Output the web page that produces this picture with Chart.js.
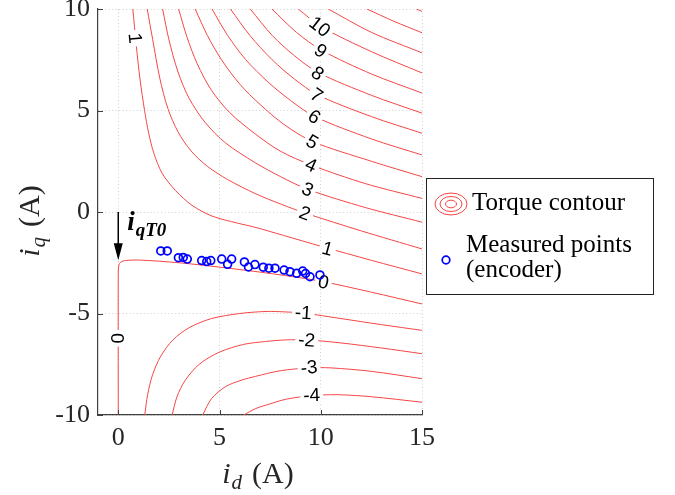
<!DOCTYPE html>
<html>
<head>
<meta charset="utf-8">
<title>Torque contour</title>
<script src="https://cdn.jsdelivr.net/npm/chart.js@4.4.1/dist/chart.umd.min.js"></script>
<style>
    body { margin: 0; background: #fff; }
    #wrap { width: 675px; height: 495px; }
</style>
</head>
<body>
<div id="wrap"><canvas id="torqueChart" width="675" height="495"></canvas></div>

<script>
    // contour paths, pairs of [id, iq] in A
    const contourM4 = [[6.19,-10],[6.8,-9.68],[7.5,-9.45],[8.3,-9.22],[9.5,-9.05],[10.8,-9.0],[12.5,-9.1],[15,-9.37]];
    const contourM3 = [[4.17,-10],[4.6,-9.2],[5.3,-8.6],[6.1,-8.28],[6.77,-8.1],[8.0,-7.82],[9.42,-7.68],[10.5,-7.68],[12.5,-7.85],[15,-8.21]];
    const contourM2 = [[2.66,-10],[2.9,-9.1],[3.3,-8.3],[4.0,-7.5],[5.0,-6.9],[6.2,-6.52],[7.27,-6.38],[8.3,-6.3],[9.31,-6.3],[11,-6.45],[13,-6.7],[15,-6.98]];
    const contourM1 = [[1.31,-10],[1.45,-9],[1.7,-8],[2.1,-7.1],[2.7,-6.3],[3.5,-5.7],[4.6,-5.25],[6.0,-5.0],[7.3,-4.9],[8.2,-4.92],[9.14,-4.98],[11,-5.25],[13,-5.55],[15,-5.83]];
    const contour0 = [[0,-10],[0,-3.0],[0.03,-2.62],[0.12,-2.47],[0.35,-2.39],[1.1,-2.37],[3.0,-2.5],[5.04,-2.72],[7.67,-3.05],[9.96,-3.4],[12.5,-3.95],[15,-4.53]];
    const contour1 = [[0.72,10],[0.88,8.3],[1.08,6.5],[1.3,5.0],[1.5,3.9],[1.76,2.89],[2.17,1.9],[2.82,1.07],[3.64,0.33],[4.63,-0.2],[5.9,-0.55],[6.75,-0.75],[8.15,-1.15],[10.05,-1.7],[12.5,-2.38],[15,-3.05]];
    const contour2 = [[1.43,10],[1.7,8.5],[2.05,6.6],[2.45,5.1],[2.95,3.95],[3.6,3.0],[4.4,2.25],[5.4,1.6],[6.76,0.91],[8.0,0.4],[9.25,-0.06],[12,-0.93],[15,-1.82]];
    const contour3 = [[2.19,10],[2.5,8.5],[2.95,6.9],[3.5,5.6],[4.3,4.4],[5.3,3.4],[6.76,2.43],[8.0,1.75],[9.37,1.11],[12.2,0.22],[15,-0.5]];
    const contour4 = [[2.98,10],[3.4,8.6],[3.9,7.3],[4.6,6.0],[5.5,4.9],[6.76,3.85],[8.0,3.0],[9.54,2.31],[12.2,1.4],[15,0.67]];
    const contour5 = [[3.8,10],[4.4,8.7],[5.1,7.5],[6.0,6.3],[7.0,5.3],[8.2,4.3],[9.6,3.47],[12.5,2.5],[15,1.74]];
    const contour6 = [[4.63,10],[5.4,8.7],[6.3,7.5],[7.4,6.4],[8.5,5.5],[9.7,4.7],[12.5,3.6],[15,2.81]];
    const contour7 = [[5.54,10],[6.5,8.7],[7.6,7.5],[8.7,6.55],[9.82,5.78],[12.5,4.7],[15,3.88]];
    const contour8 = [[6.52,10],[7.6,8.7],[8.7,7.7],[9.87,6.87],[12.5,5.75],[15,4.87]];
    const contour9 = [[7.59,10],[8.8,8.85],[10.04,7.97],[12.5,6.8],[15,5.86]];
    const contour10 = [[8.89,10],[10,9.14],[12.5,7.9],[15,6.85]];
    const contour11 = [[10.37,10],[12.5,8.85],[15,7.84]];
    const contour12 = [[12.28,10],[13.6,9.4],[15,8.83]];
    const contour13 = [[14.72,10],[15,9.88]];

    const contourLevels = [-4, -3, -2, -1, 0, 1, 2, 3, 4, 5, 6, 7, 8, 9, 10, 11, 12, 13];
    const contourPaths = [contourM4, contourM3, contourM2, contourM1, contour0, contour1, contour2, contour3,
        contour4, contour5, contour6, contour7, contour8, contour9, contour10, contour11, contour12, contour13];

    // inline contour labels
    const labelLevels = [10, 9, 8, 7, 6, 5, 4, 3, 2, 1, 1, 0, 0, -1, -2, -3, -4];
    const labelId = [9.96, 10.0, 9.85, 9.8, 9.68, 9.58, 9.52, 9.36, 9.22, 10.34, 0.84, 10.13, 0, 9.14, 9.31, 9.42, 9.55];
    const labelIq = [9.13, 7.95, 6.83, 5.76, 4.69, 3.46, 2.32, 1.12, -0.06, -1.8, 8.56, -3.45, -6.22, -4.96, -6.31, -7.65, -9.01];

    // measured points (encoder)
    const measuredId = [2.10, 2.42, 2.97, 3.21, 3.41, 4.12, 4.37, 4.57, 5.11, 5.40, 5.60, 6.23, 6.43, 6.75, 7.16, 7.44, 7.74, 8.19, 8.48, 8.81, 9.11, 9.25, 9.47, 9.96];
    const measuredIq = [-1.92, -1.92, -2.25, -2.24, -2.32, -2.39, -2.44, -2.39, -2.32, -2.58, -2.32, -2.46, -2.71, -2.59, -2.72, -2.77, -2.77, -2.86, -2.94, -3.02, -2.91, -3.03, -3.19, -3.10];

    const xTicks = [0, 5, 10, 15];
    const yTicks = [-10, -5, 0, 5, 10];
    const iqT0 = -2.38;

    const RED = 'rgb(245,70,70)';
    const BLUE = 'rgb(0,0,255)';
    const AXIS = '#404040';
    const SERIF = '"Liberation Serif", "Times New Roman", serif';

    const datasets = contourPaths.map((path, i) => ({
        label: 'T = ' + contourLevels[i],
        data: path.map(p => ({x: p[0], y: p[1]})),
        showLine: true,
        borderColor: RED,
        borderWidth: 1,
        pointRadius: 0,
        tension: 0.3,
        order: 1
    }));
    const measuredIndex = datasets.length;
    datasets.push({
        label: 'Measured points (encoder)',
        data: measuredId.map((v, i) => ({x: v, y: measuredIq[i]})),
        pointStyle: 'circle',
        pointRadius: 3.9,
        pointBorderWidth: 1.7,
        borderColor: BLUE,
        backgroundColor: 'rgba(0,0,0,0)',
        showLine: false,
        order: 0
    });

    function lineAngle(path, px, py, xs, ys) {
        let best = Infinity, ang = 0;
        for (let k = 0; k < path.length - 1; k++) {
            const x1 = xs.getPixelForValue(path[k][0]), y1 = ys.getPixelForValue(path[k][1]);
            const x2 = xs.getPixelForValue(path[k + 1][0]), y2 = ys.getPixelForValue(path[k + 1][1]);
            const dx = x2 - x1, dy = y2 - y1;
            const len2 = dx * dx + dy * dy || 1;
            let t = ((px - x1) * dx + (py - y1) * dy) / len2;
            t = Math.max(0, Math.min(1, t));
            const d = Math.hypot(x1 + t * dx - px, y1 + t * dy - py);
            if (d < best) { best = d; ang = Math.atan2(dy, dx); }
        }
        if (ang > Math.PI / 2) ang -= Math.PI;
        if (ang < -Math.PI / 2) ang += Math.PI;
        return ang;
    }

    // text made of pieces with different fonts / baseline shifts
    function drawParts(ctx, parts, cx, baseline) {
        let total = 0;
        parts.forEach(p => { ctx.font = p.font; total += ctx.measureText(p.text).width + (p.gap || 0); });
        let x = cx - total / 2;
        parts.forEach(p => {
            ctx.font = p.font;
            ctx.fillText(p.text, x, baseline + (p.dy || 0));
            x += ctx.measureText(p.text).width + (p.gap || 0);
        });
    }

    function titleParts(sub) {
        return [
            {text: 'i', font: 'italic 30px ' + SERIF, gap: 1},
            {text: sub, font: 'italic 21px ' + SERIF, dy: 6, gap: 10},
            {text: '(A)', font: '30px ' + SERIF}
        ];
    }

    const decorations = {
        id: 'decorations',
        beforeDatasetDraw(chart, args) {
            if (args.index !== measuredIndex) return;
            // contour labels sit in a gap of the line
            const ctx = chart.ctx, xs = chart.scales.x, ys = chart.scales.y;
            ctx.save();
            ctx.font = '19px "Liberation Sans", Arial, sans-serif';
            ctx.textAlign = 'center';
            ctx.textBaseline = 'middle';
            labelLevels.forEach((lv, i) => {
                const px = xs.getPixelForValue(labelId[i]);
                const py = ys.getPixelForValue(labelIq[i]);
                const path = contourPaths[contourLevels.indexOf(lv)];
                const a = lineAngle(path, px, py, xs, ys);
                const txt = String(lv);
                const w = ctx.measureText(txt).width;
                ctx.save();
                ctx.translate(px, py);
                ctx.rotate(a);
                ctx.fillStyle = '#fff';
                ctx.fillRect(-w / 2 - 3, -7, w + 6, 14);
                ctx.fillStyle = '#000';
                ctx.fillText(txt, 0, 1);
                ctx.restore();
            });
            ctx.restore();
        },
        afterDraw(chart) {
            const ctx = chart.ctx, xs = chart.scales.x, ys = chart.scales.y;
            const area = chart.chartArea;
            ctx.save();

            // inward tick marks
            ctx.strokeStyle = AXIS;
            ctx.lineWidth = 1;
            ctx.beginPath();
            xTicks.forEach(v => {
                const x = Math.round(xs.getPixelForValue(v)) + 0.5;
                ctx.moveTo(x, area.bottom);
                ctx.lineTo(x, area.bottom - 5);
            });
            yTicks.forEach(v => {
                const y = Math.round(ys.getPixelForValue(v)) + 0.5;
                ctx.moveTo(area.left, y);
                ctx.lineTo(area.left + 5, y);
            });
            ctx.stroke();

            // i_qT0 arrow
            const ax = xs.getPixelForValue(0);
            const ay0 = ys.getPixelForValue(0);
            const ay1 = ys.getPixelForValue(iqT0);
            ctx.strokeStyle = '#000';
            ctx.fillStyle = '#000';
            ctx.lineWidth = 1.5;
            ctx.beginPath();
            ctx.moveTo(ax, ay0);
            ctx.lineTo(ax, ay1 - 14);
            ctx.stroke();
            ctx.beginPath();
            ctx.moveTo(ax, ay1);
            ctx.lineTo(ax - 4.5, ay1 - 17);
            ctx.lineTo(ax + 4.5, ay1 - 17);
            ctx.closePath();
            ctx.fill();
            ctx.textAlign = 'left';
            ctx.textBaseline = 'alphabetic';
            ctx.font = 'italic bold 27px ' + SERIF;
            const ix = ax + 9, iy = ay0 + 18;
            ctx.fillText('i', ix, iy);
            const iw = ctx.measureText('i').width;
            ctx.font = 'italic bold 19px ' + SERIF;
            ctx.fillText('qT0', ix + iw + 1, iy + 6);

            // axis titles
            ctx.fillStyle = '#262626';
            drawParts(ctx, titleParts('d'), (area.left + area.right) / 2 - 2, 483);
            ctx.save();
            ctx.translate(39, 221);
            ctx.rotate(-Math.PI / 2);
            drawParts(ctx, titleParts('q'), 0, 0);
            ctx.restore();

            // legend
            ctx.fillStyle = '#fff';
            ctx.fillRect(426.5, 178.5, 227, 116);
            ctx.strokeStyle = '#222';
            ctx.lineWidth = 1;
            ctx.strokeRect(426.5, 178.5, 227, 116);
            ctx.strokeStyle = RED;
            [[16, 11], [11, 7.5], [5.5, 3.8]].forEach(r => {
                ctx.beginPath();
                ctx.ellipse(451, 204, r[0], r[1], 0, 0, Math.PI * 2);
                ctx.stroke();
            });
            ctx.strokeStyle = BLUE;
            ctx.lineWidth = 1.7;
            ctx.beginPath();
            ctx.arc(446, 260, 3.8, 0, Math.PI * 2);
            ctx.stroke();
            ctx.fillStyle = '#000';
            ctx.font = '25px ' + SERIF;
            ctx.fillText('Torque contour', 472, 210);
            ctx.fillText('Measured points', 466, 252);
            ctx.fillText('(encoder)', 466, 277);

            ctx.restore();
        }
    };

    const ctx = document.getElementById('torqueChart').getContext('2d');
    const torqueChart = new Chart(ctx, {
        type: 'scatter',
        data: {datasets: datasets},
        options: {
            responsive: false,
            animation: false,
            layout: {padding: {left: 0, top: 9, right: 253, bottom: 0}},
            plugins: {
                legend: {display: false},
                tooltip: {enabled: false}
            },
            scales: {
                x: {
                    type: 'linear',
                    min: -1,
                    max: 15,
                    afterBuildTicks: scale => { scale.ticks = xTicks.map(v => ({value: v})); },
                    afterFit: scale => { scale.height = 80; scale.paddingLeft = 0; scale.paddingRight = 0; },
                    grid: {color: '#cfcfcf', lineWidth: 1, drawTicks: false},
                    border: {display: true, color: AXIS, width: 1.2, dash: [1, 2.5]},
                    ticks: {
                        font: {family: SERIF, size: 26},
                        color: '#262626',
                        padding: 8,
                        maxRotation: 0,
                        autoSkip: false
                    }
                },
                y: {
                    type: 'linear',
                    min: -10,
                    max: 10,
                    afterBuildTicks: scale => { scale.ticks = yTicks.map(v => ({value: v})); },
                    afterFit: scale => { scale.width = 98; scale.paddingTop = 0; scale.paddingBottom = 0; },
                    grid: {color: '#cfcfcf', lineWidth: 1, drawTicks: false},
                    border: {display: true, color: AXIS, width: 1.2, dash: [1, 2.5]},
                    ticks: {
                        font: {family: SERIF, size: 26},
                        color: '#262626',
                        padding: 8,
                        autoSkip: false
                    }
                }
            }
        },
        plugins: [decorations]
    });
</script>
</body>
</html>
